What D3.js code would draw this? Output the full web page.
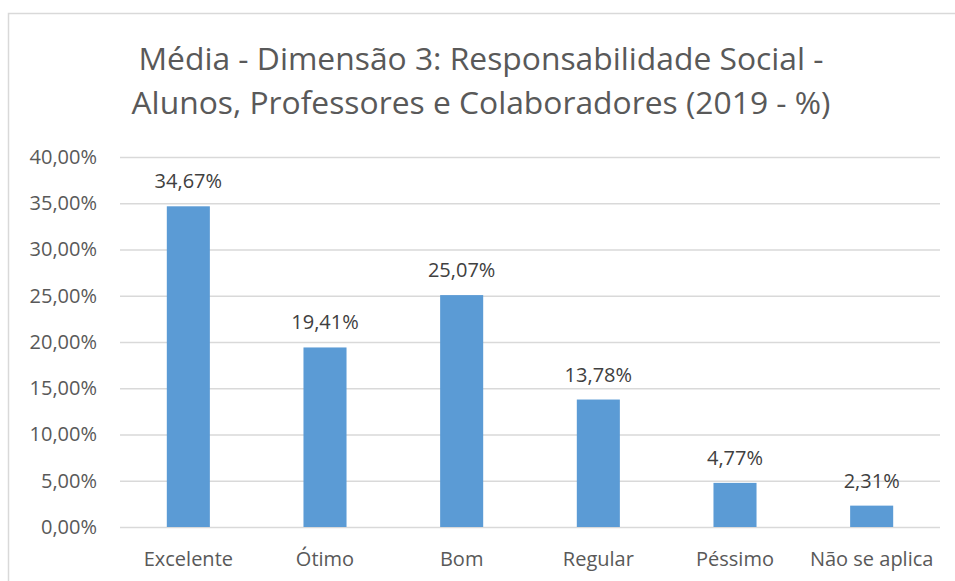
<!DOCTYPE html>
<html>
<head>
<meta charset="utf-8">
<script src="https://cdn.jsdelivr.net/npm/d3@7"></script>
<style>
  body { margin: 0; background: #fff; }
  svg { display: block; font-family: "Open Sans", "Noto Sans", sans-serif; }
</style>
</head>
<body>
<div id="chart-area"></div>
<script>
const categories = ["Excelente", "Ótimo", "Bom", "Regular", "Péssimo", "Não se aplica"];
const values = [34.67, 19.41, 25.07, 13.78, 4.77, 2.31];
const yTicks = [0, 5, 10, 15, 20, 25, 30, 35, 40];
const titleLines = ["Média - Dimensão 3: Responsabilidade Social -", "Alunos, Professores e Colaboradores (2019 - %)"];

const fmt = v => v.toFixed(2).replace(".", ",") + "%";

const main = () => {
    const chartSize = { width: 955, height: 581 };
    const margin = { left: 120, right: 15, top: 157, bottom: 54 };
    const width = chartSize.width - margin.left - margin.right;
    const height = chartSize.height - margin.top - margin.bottom;

    const svg = d3.select("#chart-area").append("svg")
        .attr("width", chartSize.width)
        .attr("height", chartSize.height);

    // chart border (top and left visible)
    svg.append("path")
        .attr("d", `M8.5,${chartSize.height} V13.5 H${chartSize.width}`)
        .attr("fill", "none")
        .attr("stroke", "#d9d9d9")
        .attr("stroke-width", 1.5);

    svg.append("text")
        .attr("text-anchor", "middle")
        .attr("fill", "#595959")
        .attr("font-size", 31.8)
        .selectAll("tspan").data(titleLines).enter()
        .append("tspan")
        .attr("x", 481)
        .attr("y", (d, i) => 70 + i * 44)
        .text(d => d);

    const g = svg.append("g").attr("transform", `translate(${margin.left}, ${margin.top})`);

    const y = d3.scaleLinear().domain([0, 40]).range([height, 0]);
    const x = d3.scaleBand().domain(categories).range([0, width]).padding(0);
    const barWidth = x.bandwidth() * 0.315;

    const yAxis = d3.axisLeft(y).tickValues(yTicks).tickSize(-width).tickPadding(23).tickFormat(fmt);
    g.append("g")
        .attr("class", "y-axis")
        .call(yAxis)
        .attr("font-family", null)
        .attr("font-size", 20)
        .call(a => a.select(".domain").remove())
        .call(a => a.selectAll("line").attr("stroke", "#d9d9d9").attr("stroke-width", 1.3))
        .call(a => a.selectAll("text").attr("fill", "#595959"));

    const xAxis = d3.axisBottom(x).tickSize(0).tickPadding(0);
    g.append("g")
        .attr("class", "x-axis")
        .attr("transform", `translate(0, ${height})`)
        .call(xAxis)
        .attr("font-family", null)
        .attr("font-size", 20)
        .call(a => a.select(".domain").remove())
        .call(a => a.selectAll("text").attr("fill", "#595959").attr("dy", null).attr("y", 39));

    const data = categories.map((c, i) => ({ name: c, value: values[i] }));

    g.selectAll("rect.bar").data(data).enter()
        .append("rect")
        .attr("class", "bar")
        .attr("x", d => x(d.name) + (x.bandwidth() - barWidth) / 2)
        .attr("y", d => y(d.value))
        .attr("width", barWidth)
        .attr("height", d => height - y(d.value))
        .attr("fill", "#5b9bd5");

    g.selectAll("text.label").data(data).enter()
        .append("text")
        .attr("class", "label")
        .attr("x", d => x(d.name) + x.bandwidth() / 2)
        .attr("y", d => y(d.value) - 18)
        .attr("text-anchor", "middle")
        .attr("fill", "#404040")
        .attr("font-size", 20)
        .text(d => fmt(d.value));
};

window.onload = main;
</script>
</body>
</html>
